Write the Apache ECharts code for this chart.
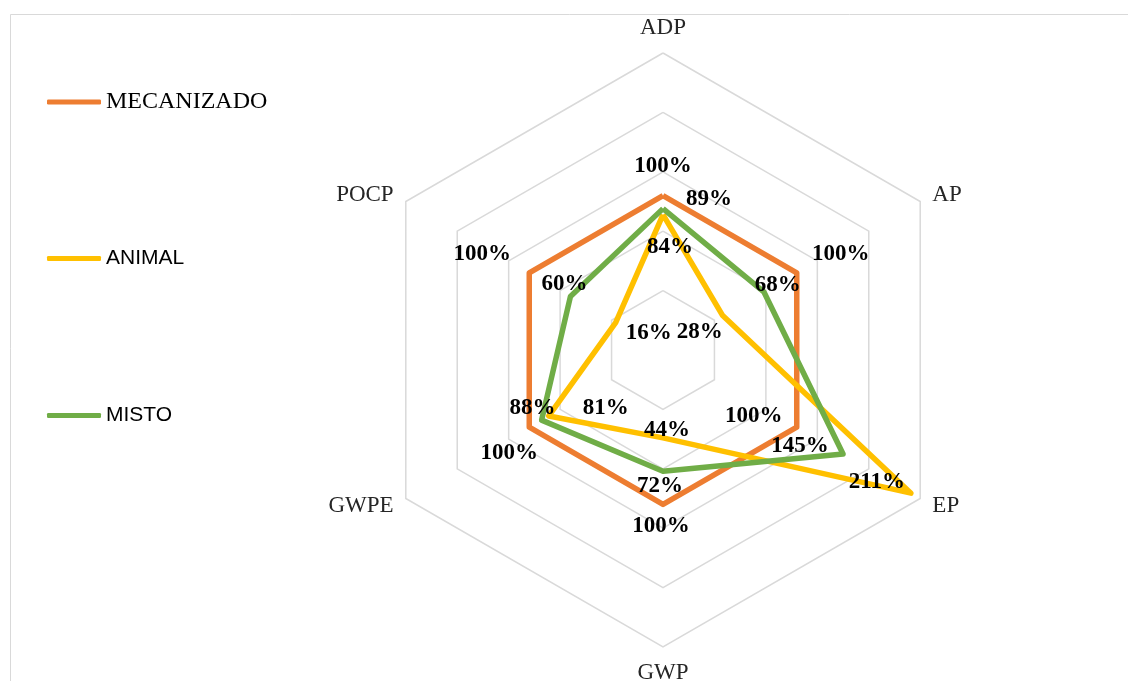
<!DOCTYPE html>
<html>
<head>
<meta charset="utf-8">
<script src="https://cdn.jsdelivr.net/npm/echarts@6/dist/echarts.min.js"></script>
<style>
  html, body { margin: 0; padding: 0; background: #fff; }
  #chart { width: 1128px; height: 681px; }
</style>
</head>
<body>
<div id="chart"></div>
<script>
// ---- data (categories in clockwise order starting at the top) ----
const categories = ['ADP', 'AP', 'EP', 'GWP', 'GWPE', 'POCP'];
const seriesNames = ['MECANIZADO', 'ANIMAL', 'MISTO'];
const mecanizado = [1.00, 1.00, 1.00, 1.00, 1.00, 1.00];
const animal     = [0.84, 0.28, 2.11, 0.44, 0.81, 0.16];
const misto      = [0.89, 0.68, 1.45, 0.72, 0.88, 0.60];
const axisMin = -0.3;
const axisMax = 2.2;

// ---- styles ----
const colors = ['#ED7D31', '#FFC000', '#70AD47'];
// label offsets (px) relative to each vertex, in category order
const labelOffsets = [
  [[0, -29], [44, -19], [-43, -11], [-2, 22], [-20, 26], [-47, -19]],
  [[7, 32], [-23, 17], [-34, -11], [4, -8], [57, -8], [33, 10]],
  [[46, -10], [14, -7], [-43, -8], [-3, 15], [-9, -12], [-6, -12]]
];
const legendTops = [85, 243, 400];
const legendFonts = [
  { fontFamily: 'Liberation Serif', fontSize: 24 },
  { fontFamily: 'Liberation Sans', fontSize: 21 },
  { fontFamily: 'Liberation Sans', fontSize: 21 }
];

// ECharts places radar indicators counter-clockwise; reorder to get clockwise
const order = [0, 5, 4, 3, 2, 1];
const reorder = arr => order.map(i => arr[i]);

const allValues = [mecanizado, animal, misto];

const series = [];
allValues.forEach((vals, s) => {
  series.push({
    type: 'radar',
    name: seriesNames[s],
    symbol: 'none',
    z: 2 + s,
    lineStyle: { color: colors[s], width: 5.5 },
    itemStyle: { color: colors[s] },
    data: [{ name: seriesNames[s], value: reorder(vals) }],
    silent: true
  });
});
// label-only series: one item per vertex, values elsewhere at the axis minimum
allValues.forEach((vals, s) => {
  const items = categories.map((c, k) => {
    const v = categories.map((_, j) => (j === k ? vals[j] : axisMin));
    return {
      value: reorder(v),
      label: { offset: labelOffsets[s][k] }
    };
  });
  series.push({
    type: 'radar',
    symbol: 'circle',
    symbolSize: 1,
    z: 10,
    silent: true,
    itemStyle: { color: 'rgba(0,0,0,0)' },
    lineStyle: { width: 0, opacity: 0 },
    label: {
      show: true,
      position: 'inside',
      color: '#000',
      fontFamily: 'Liberation Serif',
      fontWeight: 'bold',
      fontSize: 23,
      formatter: p => (p.value > axisMin + 1e-9 ? Math.round(p.value * 100) + '%' : '')
    },
    data: items
  });
});

const legends = seriesNames.map((n, i) => ({
  orient: 'vertical',
  left: 42,
  top: legendTops[i],
  icon: 'roundRect',
  itemWidth: 54,
  itemHeight: 5,
  selectedMode: false,
  data: [{ name: n, itemStyle: { color: colors[i] } }],
  textStyle: Object.assign({ color: '#000' }, legendFonts[i])
}));

const chart = echarts.init(document.getElementById('chart'), null, { renderer: 'canvas' });
chart.setOption({
  animation: false,
  backgroundColor: '#fff',
  graphic: [{
    type: 'rect',
    shape: { x: 10.5, y: 14.5, width: 1400, height: 900 },
    style: { fill: 'none', stroke: '#d9d9d9', lineWidth: 1 },
    silent: true,
    z: -10
  }],
  legend: legends,
  radar: {
    center: [663, 350],
    radius: 297,
    shape: 'polygon',
    splitNumber: 5,
    nameGap: 14,
    axisName: {
      color: '#262626',
      fontFamily: 'Liberation Serif',
      fontSize: 23
    },
    axisLine: { show: false },
    axisTick: { show: false },
    axisLabel: { show: false },
    splitArea: { show: false },
    splitLine: { lineStyle: { color: '#d9d9d9', width: 1.5 } },
    indicator: reorder(categories).map(c => ({ name: c, min: axisMin, max: axisMax }))
  },
  series: series
});
</script>
</body>
</html>
